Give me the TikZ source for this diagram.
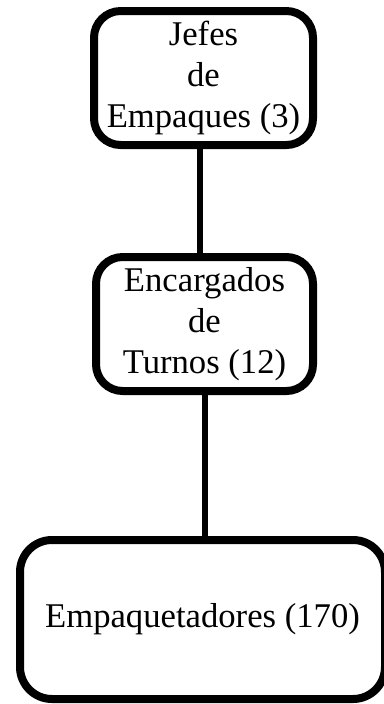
\documentclass[tikz,border=0pt]{standalone}
\usepackage{fontspec}
\setmainfont{Liberation Serif}
\usetikzlibrary{calc}
\begin{document}
\begin{tikzpicture}[x=0.75pt,y=-0.75pt,
  orgbox/.style={draw=black, line width=6pt, rounded corners=20pt, fill=white,
    align=center, inner sep=0pt, font=\fontsize{26}{31}\selectfont},
  link/.style={draw=black, line width=4.5pt}]
\useasboundingbox (0,0) rectangle (384,704);
\clip (0,0) rectangle (384,704);
\fill[white] (0,0) rectangle (384,704);
\node[orgbox, minimum width=219*0.75pt, minimum height=134*0.75pt] (b1) at (203.5,78) {Jefes\\de\\Empaques (3)};
\node[orgbox, minimum width=217*0.75pt, minimum height=134*0.75pt] (b2) at (204.5,324) {Encargados\\de\\Turnos (12)};
\node[orgbox, rounded corners=24pt, minimum width=365*0.75pt, minimum height=159*0.75pt] (b3) at (202.5,619.5) {Empaquetadores (170)};
\draw[link] ([xshift=-2.6pt]b1.south) -- ([xshift=-2.6pt]b1.south |- b2.north);
\draw[link] (b2.south) -- (b2.south |- b3.north);
\end{tikzpicture}
\end{document}
